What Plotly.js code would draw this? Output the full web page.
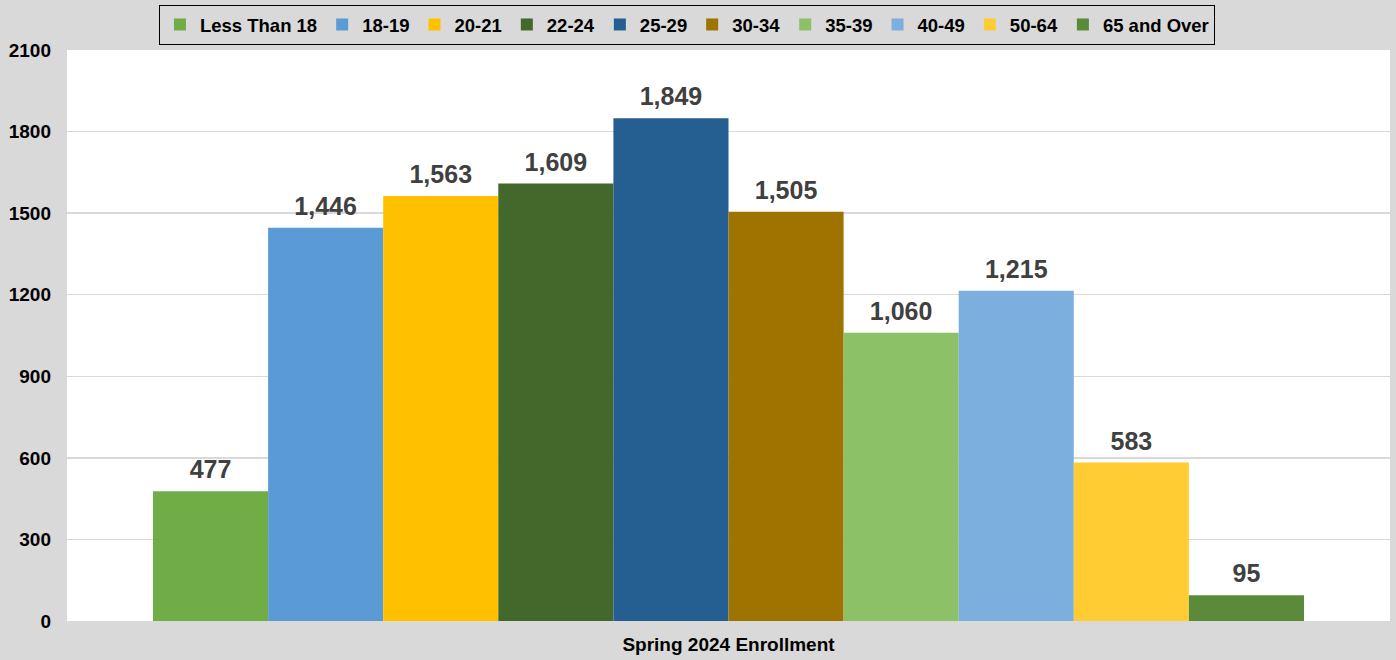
<!DOCTYPE html>
<html>
<head>
<meta charset="utf-8">
<script src="https://cdn.plot.ly/plotly-3.0.1.min.js"></script>
<style>html,body{margin:0;padding:0;background:#d9d9d9;}#chart{width:1396px;height:660px;}</style>
</head>
<body>
<div id="chart"></div>
<script>
const category = ["Spring 2024 Enrollment"];
const groups = ["Less Than 18","18-19","20-21","22-24","25-29","30-34","35-39","40-49","50-64","65 and Over"];
const values = [477,1446,1563,1609,1849,1505,1060,1215,583,95];
const colors = ["#70ad47","#5b9bd5","#ffc000","#43682b","#255e91","#9e7300","#8cc168","#7cafdd","#ffcd33","#5a8a3a"];
const yTicks = [0,300,600,900,1200,1500,1800,2100];

const FONT = "Liberation Sans, Arial, sans-serif";
const bars = groups.map((g,i)=>({
  type:'bar', name:g, x:category, y:[values[i]],
  marker:{color:colors[i]}, hoverinfo:'skip'
}));
const labels = groups.map((g,i)=>({
  type:'scatter', mode:'markers+text', name:g+' label', showlegend:false,
  x:category, y:[values[i]],
  marker:{size:9, color:'rgba(0,0,0,0)'},
  text:[values[i].toLocaleString('en-US')], textposition:'top center', cliponaxis:false,
  textfont:{family:FONT, size:25, color:'#404040', weight:'bold'},
  hoverinfo:'skip'
}));

const layout = {
  width:1396, height:660,
  paper_bgcolor:'#d9d9d9', plot_bgcolor:'#ffffff',
  margin:{l:67, r:6, t:49, b:39},
  barmode:'group', bargap:0.13, bargroupgap:0,
  scattermode:'group', scattergap:0.13,
  font:{family:FONT, size:19, color:'#000', weight:'bold'},
  showlegend:true,
  legend:{orientation:'h', x:0.0695, xanchor:'left', y:1.077, yanchor:'top',
    bgcolor:'#d9d9d9', bordercolor:'#000', borderwidth:1,
    font:{family:FONT, size:18.5, color:'#000', weight:'bold'}, traceorder:'normal', itemclick:false},
  xaxis:{type:'category', showgrid:false, zeroline:false, showline:false, ticks:'', ticklabelstandoff:10,
    tickfont:{family:FONT, size:19, color:'#000', weight:'bold'}},
  yaxis:{range:[0,2100], tickvals:yTicks, ticktext:yTicks.map(String), showgrid:true, gridcolor:'#d9d9d9', gridwidth:1.5,
    zeroline:false, showline:false, ticks:'', ticklabelstandoff:15,
    tickfont:{family:FONT, size:19, color:'#000', weight:'bold'}}
};
Plotly.newPlot('chart', bars.concat(labels), layout, {displayModeBar:false, staticPlot:true});
</script>
</body>
</html>
